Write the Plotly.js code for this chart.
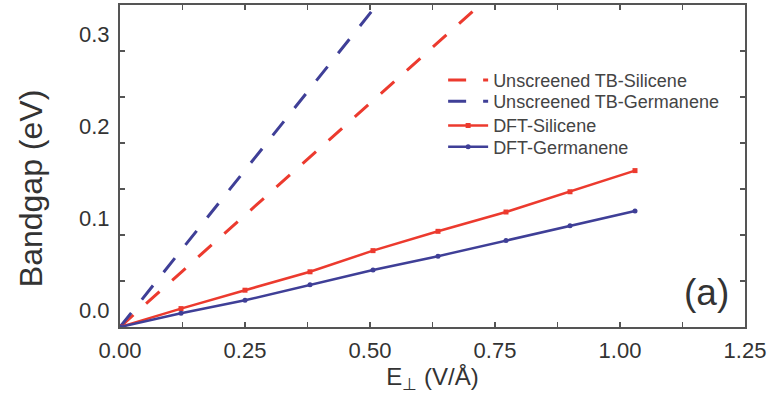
<!DOCTYPE html>
<html>
<head>
<meta charset="utf-8">
<script src="https://cdn.plot.ly/plotly-3.0.1.min.js"></script>
<style>html,body{margin:0;padding:0;background:#fff;}#chart{width:767px;height:396px;}</style>
</head>
<body>
<div id="chart"></div>
<script>
// Data
const E_TB_Si = [0, 0.73];
const gap_TB_Si = [0, 0.355];
const E_TB_Ge = [0, 0.506];
const gap_TB_Ge = [0, 0.345];
const E_DFT = [0, 0.122, 0.25, 0.38, 0.506, 0.636, 0.772, 0.9, 1.03];
const gap_DFT_Si = [0, 0.020, 0.040, 0.060, 0.083, 0.104, 0.125, 0.147, 0.170];
const gap_DFT_Ge = [0, 0.015, 0.029, 0.046, 0.062, 0.077, 0.094, 0.110, 0.126];
const names = ['Unscreened TB-Silicene', 'Unscreened TB-Germanene', 'DFT-Silicene', 'DFT-Germanene'];
const xTickVals = [0, 0.25, 0.5, 0.75, 1.0, 1.25];
const yLabelVals = [0, 0.1, 0.2, 0.3];

const RED = '#ec3a2e', BLUE = '#3f3f97', AX = '#555555', TXT = '#333333';
const FONT = 'Arial, "Liberation Sans", sans-serif';

const traces = [
  {x: E_TB_Si, y: gap_TB_Si, name: names[0], legend: 'legend', mode: 'lines', line: {color: RED, width: 3, dash: '18px,17px'}},
  {x: E_TB_Ge, y: gap_TB_Ge, name: names[1], legend: 'legend2', mode: 'lines', line: {color: BLUE, width: 3, dash: '18px,17px'}},
  {x: E_DFT, y: gap_DFT_Si, name: names[2], legend: 'legend3', mode: 'lines+markers', line: {color: RED, width: 2.5}, marker: {symbol: 'square', size: 5, color: RED}},
  {x: E_DFT, y: gap_DFT_Ge, name: names[3], legend: 'legend4', mode: 'lines+markers', line: {color: BLUE, width: 2.5}, marker: {symbol: 'circle', size: 5, color: BLUE}}
];

function legendAt(y) {
  return {x: 0.517, y: y, xanchor: 'left', yanchor: 'middle', bgcolor: 'rgba(0,0,0,0)',
          font: {size: 18, color: '#444', family: FONT}, itemwidth: 40};
}

const annotations = yLabelVals.map(v => ({
  text: v.toFixed(1), xref: 'paper', yref: 'y', x: 0, y: v, xanchor: 'right', yanchor: 'middle',
  xshift: -8, yshift: 17, showarrow: false, font: {size: 22, color: TXT, family: FONT}
}));
annotations.push({text: '(a)', xref: 'paper', yref: 'paper', x: 0.938, y: 0.108, xanchor: 'center', yanchor: 'middle',
  showarrow: false, font: {size: 37, color: '#333', family: FONT}});
annotations.push({text: 'Bandgap (eV)', xref: 'paper', yref: 'paper', x: -0.143, y: 0.43, xanchor: 'center', yanchor: 'middle',
  textangle: -90, showarrow: false, font: {size: 32, color: TXT, family: FONT}});

const layout = {
  width: 767, height: 396,
  margin: {l: 120, r: 22, t: 5, b: 69},
  paper_bgcolor: '#fff', plot_bgcolor: '#fff',
  font: {family: FONT, color: TXT},
  showlegend: true,
  legend: legendAt(0.766),
  legend2: legendAt(0.700),
  legend3: legendAt(0.625),
  legend4: legendAt(0.559),
  xaxis: {
    range: [0, 1.25], tickvals: xTickVals, tickformat: '.2f',
    ticks: 'inside', ticklen: 5, tickwidth: 1.5, tickcolor: AX,
    minor: {dtick: 0.125, ticks: 'inside', ticklen: 5, tickwidth: 1.5, tickcolor: AX, showgrid: false},
    showline: true, linecolor: AX, linewidth: 2, mirror: 'ticks',
    showgrid: false, zeroline: false,
    tickfont: {size: 22, color: TXT}, ticklabelstandoff: 3,
    title: {text: 'E<sub>⊥</sub> (V/Å)', font: {size: 24, color: TXT}, standoff: 0}
  },
  yaxis: {
    range: [0, 0.35], dtick: 0.05,
    ticks: 'inside', ticklen: 5, tickwidth: 1.5, tickcolor: AX,
    showticklabels: false,
    showline: true, linecolor: AX, linewidth: 2, mirror: 'ticks',
    showgrid: false, zeroline: false
  },
  annotations: annotations
};

Plotly.newPlot('chart', traces, layout, {displayModeBar: false, staticPlot: true});
</script>
</body>
</html>
